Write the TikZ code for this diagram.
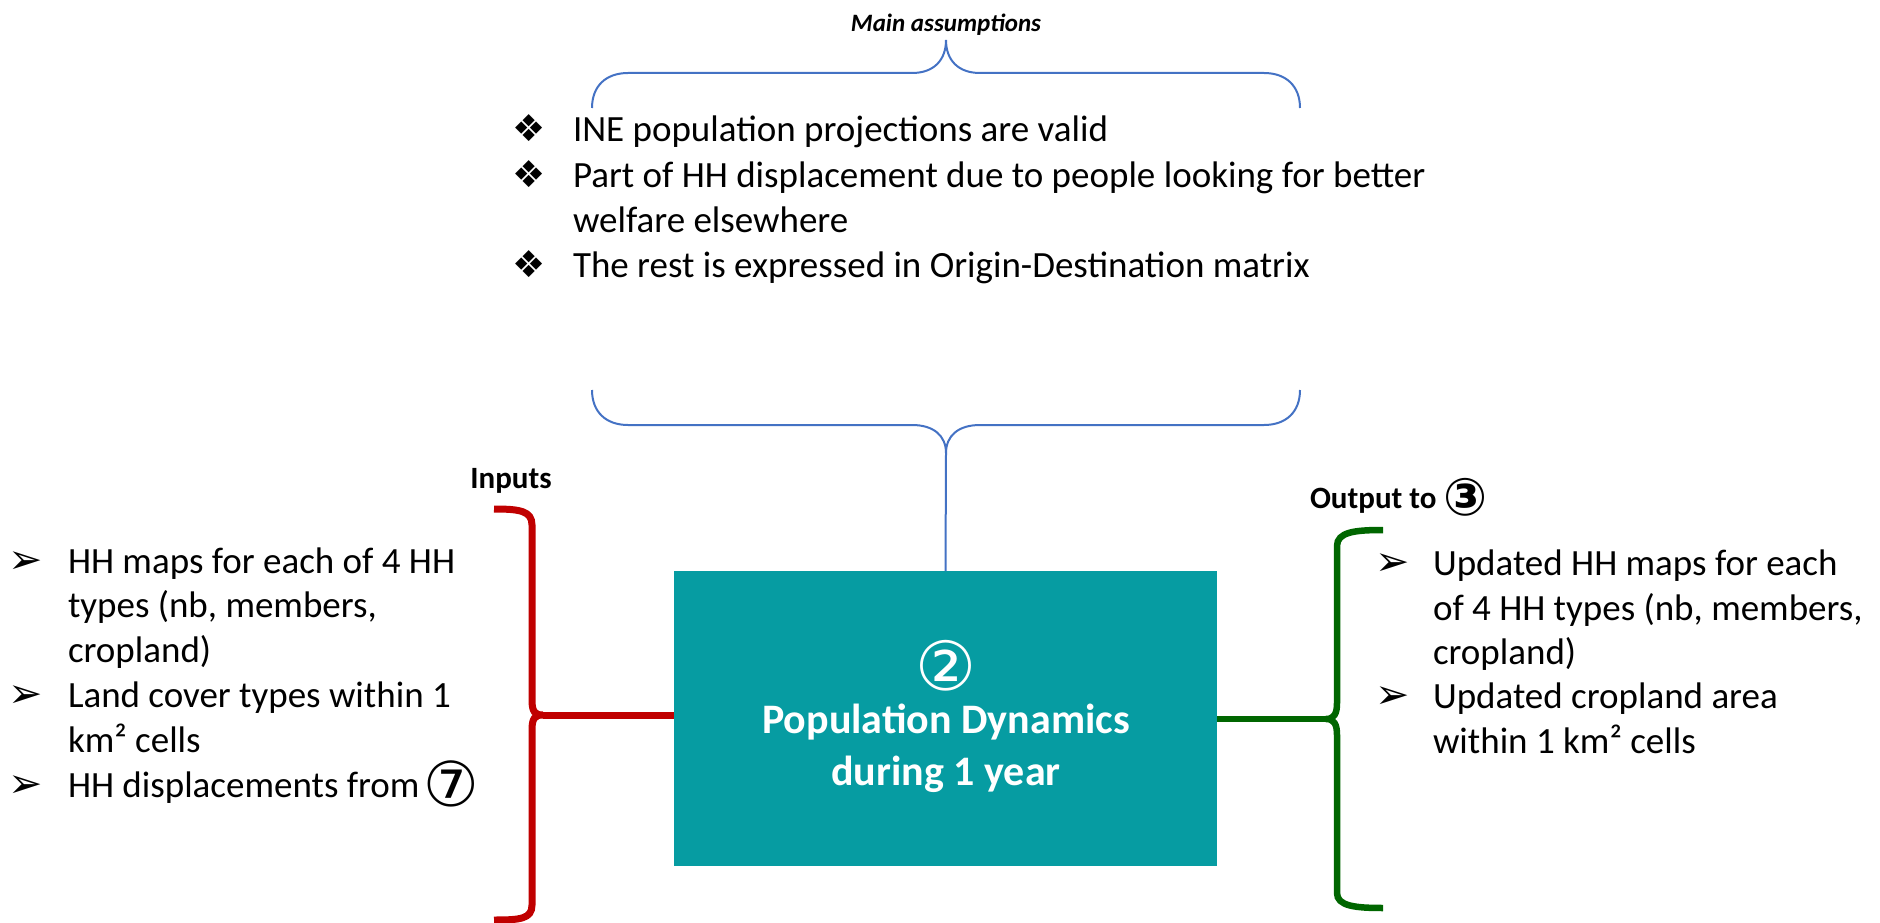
\documentclass[tikz,border=0pt]{standalone}
\usepackage{fontspec}
\setmainfont{Carlito}
\newfontfamily\djv{DejaVu Sans}
\definecolor{boxteal}{HTML}{069CA2}
\definecolor{inred}{HTML}{C00000}
\definecolor{outgreen}{HTML}{006600}
\definecolor{bracblue}{HTML}{4472C4}
\begin{document}
\begin{tikzpicture}[x=1pt,y=-1pt,
  every node/.style={inner sep=0pt, outer sep=0pt},
  body/.style={anchor=base west, font=\fontsize{37}{45}\selectfont},
  diam/.style={anchor=base west, font=\djv\fontsize{37}{45}\selectfont},
  arrowb/.style={anchor=base west, font=\djv\fontsize{41}{45}\selectfont},
  head/.style={anchor=base, font=\bfseries\fontsize{31}{37}\selectfont},
  bluebr/.style={draw=bracblue, line width=2pt},
  redbr/.style={draw=inred, line width=7pt},
  greenbr/.style={draw=outgreen, line width=6.5pt},
  boxtxt/.style={anchor=base, text=white, font=\bfseries\fontsize{42}{52}\selectfont}]
\useasboundingbox (0,0) rectangle (1880,923);

% main box
\node[fill=boxteal, minimum width=543pt, minimum height=295pt] (box) at (945.5,718.5) {};
\node[text=white, font=\djv\fontsize{68}{70}\selectfont] (two) at (946,666) {②};
\node[boxtxt] (pd1) at (946,733) {Population Dynamics};
\node[boxtxt] (pd2) at (946,785) {during 1 year};

% main assumptions
\node[anchor=base, font=\bfseries\itshape\fontsize{25}{30}\selectfont] (ma) at (946,32) {Main assumptions};
\draw[bluebr] (592,108) .. controls (592,86) and (606,73) .. (628,73) -- (912,73)
  .. controls (934,73) and (946,60) .. (946,40)
  .. controls (946,60) and (958,73) .. (980,73) -- (1264,73)
  .. controls (1286,73) and (1300,86) .. (1300,108);
\node[diam] (d1) at (512,142) {❖};
\node[body] (t1) at (573,142) {INE population projections are valid};
\node[diam] (d2) at (512,187) {❖};
\node[body] (t2) at (573,187) {Part of HH displacement due to people looking for better};
\node[body] (t2b) at (573,232) {welfare elsewhere};
\node[diam] (d3) at (512,277) {❖};
\node[body] (t3) at (573,277) {The rest is expressed in Origin-Destination matrix};

\draw[bluebr] (592,390) .. controls (592,412) and (606,425) .. (628,425) -- (912,425)
  .. controls (934,425) and (946,436) .. (946,453)
  .. controls (946,436) and (958,425) .. (980,425) -- (1264,425)
  .. controls (1286,425) and (1300,412) .. (1300,390);
\coordinate (btip) at (946,453);
\draw[bluebr] (btip) -- (box.north);

% inputs
\node[head] (inp) at (511,488) {Inputs};
\draw[redbr] (494,509) .. controls (520,509) and (532,511) .. (532,525) -- (532,700)
  .. controls (532,712) and (535,715) .. (543,715)
  .. controls (535,715) and (532,718) .. (532,730) -- (532,905)
  .. controls (532,919) and (520,920) .. (494,920);
\coordinate (rtip) at (543,715);
\draw[redbr] (rtip) -- (rtip -| box.west);
\node[arrowb] (la1) at (9,573) {➢};
\node[body] (l1) at (68,573) {HH maps for each of 4 HH};
\node[body] (l1b) at (68,617) {types (nb, members,};
\node[body] (l1c) at (68,662) {cropland)};
\node[arrowb] (la2) at (9,707) {➢};
\node[body] (l2) at (68,707) {Land cover types within 1};
\node[body] (l2b) at (68,752) {km² cells};
\node[arrowb] (la3) at (9,797) {➢};
\node[body] (l3) at (68,797) {HH displacements from\hspace{4pt}\raisebox{-9pt}{\djv\fontsize{62}{45}\selectfont ⑦}};

% outputs
\node[head, anchor=base west] (outp) at (1310,508) {Output to \raisebox{-7pt}{\djv\fontsize{52}{37}\selectfont ③}};
\draw[greenbr] (1383,530) .. controls (1355,530) and (1337,532) .. (1337,546) -- (1337,703)
  .. controls (1337,714) and (1334,719) .. (1326,719)
  .. controls (1334,719) and (1337,724) .. (1337,735) -- (1337,893)
  .. controls (1337,906) and (1355,908) .. (1383,908);
\coordinate (gtip) at (1326,719);
\draw[greenbr] (gtip) -- (gtip -| box.east);
\node[arrowb] (ra1) at (1375,575) {➢};
\node[body] (r1) at (1433,575) {Updated HH maps for each};
\node[body] (r1b) at (1433,620) {of 4 HH types (nb, members,};
\node[body] (r1c) at (1433,664) {cropland)};
\node[arrowb] (ra2) at (1375,708) {➢};
\node[body] (r2) at (1433,708) {Updated cropland area};
\node[body] (r2b) at (1433,753) {within 1 km² cells};
\end{tikzpicture}
\end{document}
